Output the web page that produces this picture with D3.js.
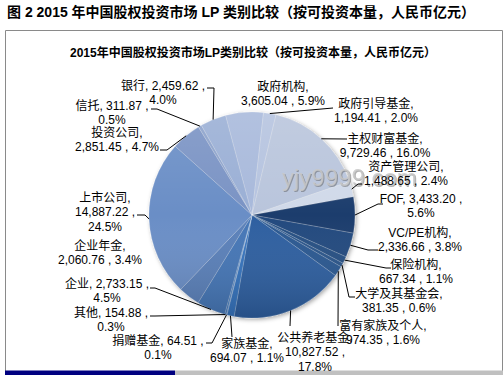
<!DOCTYPE html>
<html>
<head>
<meta charset="utf-8">
<script src="https://cdnjs.cloudflare.com/ajax/libs/d3/7.8.5/d3.min.js"></script>
<style>
    body { margin: 0; background: #fff; }
    text { font-family: Arial, "Liberation Sans", "Noto Sans CJK SC", sans-serif; }
</style>
</head>
<body>
<svg id="chart" width="504" height="375"></svg>
<script>
    // LP categories, clockwise from the first slice
    const categories = ["政府机构", "政府引导基金", "主权财富基金", "资产管理公司", "FOF", "VC/PE机构",
        "保险机构", "大学及其基金会", "富有家族及个人", "公共养老基金", "家族基金", "捐赠基金",
        "其他", "企业", "企业年金", "上市公司", "投资公司", "信托", "银行"];
    const values = [3605.04, 1194.41, 9729.46, 1488.65, 3433.20, 2336.66,
        667.34, 381.35, 974.35, 10827.52, 694.07, 64.51,
        154.88, 2733.15, 2060.76, 14887.22, 2851.45, 311.87, 2459.62];
    const colors = ["#a8b9db", "#b5c3df", "#b9c5dc", "#d0d9e9", "#1f3e6d", "#244a7e",
        "#275083", "#29548a", "#2b5891", "#2d5fa0", "#3673bd", "#3a75bd",
        "#3e76ba", "#4576b6", "#5a80b9", "#6a8ec6", "#7a93c4", "#8ca2cb", "#9aafd5"];

    const mainTitle = "图 2 2015 年中国股权投资市场 LP 类别比较（按可投资本量，人民币亿元）";
    const chartTitle = "2015年中国股权投资市场LP类别比较（按可投资本量，人民币亿元）";

    // label placement: centre x, first line y, how the text is split, leader bend points
    const labelLayout = [
        { x: 283, y: 86, split: "A", leader: null },
        { x: 376, y: 103, split: "A", leader: [[333, 108]] },
        { x: 385, y: 138, split: "A", leader: [[347, 139]] },
        { x: 406, y: 166, split: "A", leader: [[358, 184], [362, 184]] },
        { x: 421, y: 198, split: "B", leader: [[378, 204], [383, 204]] },
        { x: 420, y: 232, split: "A", leader: [[368, 250], [378, 250]] },
        { x: 416, y: 264, split: "A", leader: [[386, 268], [391, 268]] },
        { x: 399, y: 293, split: "A", leader: [[349, 297], [355, 297]] },
        { x: 383, y: 325, split: "A", leader: [[338, 326]] },
        { x: 315, y: 337, split: "C", leader: [[290, 326]] },
        { x: 247, y: 343, split: "A", leader: [[232, 337]] },
        { x: 158, y: 340, split: "B", leader: [[212, 343], [206, 343]] },
        { x: 111, y: 312, split: "B", leader: [[155, 316], [150, 316]] },
        { x: 107, y: 283, split: "B", leader: [[155, 288], [150, 288]] },
        { x: 100, y: 245, split: "A", leader: null },
        { x: 105, y: 197, split: "C", leader: [[145, 215], [137, 215]] },
        { x: 117, y: 132, split: "A", leader: [[167, 150], [160, 150]] },
        { x: 112, y: 105, split: "B", leader: [[157, 109], [151, 109]] },
        { x: 163, y: 85, split: "B", leader: [[214, 88], [207, 88]] }
    ];

    const width = 504, height = 375;
    const cx = 252, cy = 215, radius = 103;
    const startDeg = -14.9;

    const svg = d3.select("#chart");
    const defs = svg.append("defs");

    // shading over the pie: lighter at the top, darker at the bottom
    const grad = defs.append("linearGradient")
        .attr("id", "shade")
        .attr("x1", 0).attr("y1", 0).attr("x2", 0).attr("y2", 1);
    grad.append("stop").attr("offset", "0%").attr("stop-color", "#fff").attr("stop-opacity", 0.12);
    grad.append("stop").attr("offset", "50%").attr("stop-color", "#fff").attr("stop-opacity", 0);
    grad.append("stop").attr("offset", "100%").attr("stop-color", "#000").attr("stop-opacity", 0.16);

    const shadow = defs.append("filter").attr("id", "pieShadow")
        .attr("x", "-10%").attr("y", "-10%").attr("width", "130%").attr("height", "130%");
    shadow.append("feDropShadow")
        .attr("dx", 1.5).attr("dy", 1.5).attr("stdDeviation", 2)
        .attr("flood-color", "#000").attr("flood-opacity", 0.35);

    // outer title
    svg.append("text")
        .attr("x", 7).attr("y", 17)
        .attr("font-size", 14).attr("font-weight", "bold")
        .attr("fill", "#000")
        .text(mainTitle);

    // chart frame
    svg.append("path")
        .attr("d", "M5.5,371 V30.5 H502.5 V371")
        .attr("fill", "none").attr("stroke", "#8a8a8a").attr("stroke-width", 1);
    svg.append("rect").attr("x", 5).attr("y", 370.5).attr("width", 170).attr("height", 4.5).attr("fill", "#000080");
    svg.append("rect").attr("x", 175).attr("y", 370.5).attr("width", 328).attr("height", 4.5).attr("fill", "#c0c0c0");

    svg.append("text")
        .attr("x", 253).attr("y", 57)
        .attr("text-anchor", "middle")
        .attr("font-size", 12).attr("font-weight", "bold")
        .text(chartTitle);

    const data = categories.map((c, i) => ({ name: c, value: values[i], color: colors[i], layout: labelLayout[i] }));
    const total = d3.sum(values);

    const pie = d3.pie()
        .sort(null)
        .value(d => d.value)
        .startAngle(startDeg * Math.PI / 180)
        .endAngle(startDeg * Math.PI / 180 + 2 * Math.PI);
    const arcs = pie(data);

    const arc = d3.arc().innerRadius(0).outerRadius(radius);

    const g = svg.append("g").attr("transform", `translate(${cx},${cy})`);
    const slices = g.append("g").attr("filter", "url(#pieShadow)");
    slices.selectAll("path")
        .data(arcs)
        .join("path")
        .attr("d", arc)
        .attr("fill", d => d.data.color)
        .attr("stroke", "rgba(255,255,255,0.35)")
        .attr("stroke-width", 0.5);
    g.append("circle").attr("r", radius).attr("fill", "url(#shade)");

    // watermark
    svg.append("text")
        .attr("x", 283).attr("y", 187)
        .attr("font-size", 24)
        .attr("fill", "#555").attr("opacity", 0.45)
        .text("yjy9999.com");
    svg.append("text")
        .attr("x", 282).attr("y", 186)
        .attr("font-size", 24)
        .attr("fill", "#c8c8c8").attr("opacity", 0.85)
        .text("yjy9999.com");

    // leader lines
    const fmtVal = d3.format(",.2f");
    const fmtPct = d3.format(".1%");
    const line = d3.line();
    svg.append("g").selectAll("path")
        .data(arcs.filter(d => d.data.layout.leader))
        .join("path")
        .attr("d", d => {
            const mid = (d.startAngle + d.endAngle) / 2;
            const p0 = [cx + radius * Math.sin(mid), cy - radius * Math.cos(mid)];
            return line([p0, ...d.data.layout.leader]);
        })
        .attr("fill", "none")
        .attr("stroke", "#000")
        .attr("stroke-width", 1);

    // data labels
    function labelLines(d) {
        const v = fmtVal(d.value), p = fmtPct(d.value / total);
        switch (d.layout.split) {
            case "A": return [d.name + ",", v + " , " + p];
            case "B": return [d.name + ", " + v + " ,", p];
            default: return [d.name + ",", v + " ,", p];
        }
    }
    const labels = svg.append("g").selectAll("text")
        .data(data)
        .join("text")
        .attr("text-anchor", "middle")
        .attr("font-size", 12)
        .attr("fill", "#000");
    labels.each(function (d) {
        const t = d3.select(this);
        labelLines(d).forEach((s, i) => {
            t.append("tspan")
                .attr("x", d.layout.x)
                .attr("y", d.layout.y + 4.5 + i * 14.5)
                .text(s);
        });
    });
</script>
</body>
</html>
